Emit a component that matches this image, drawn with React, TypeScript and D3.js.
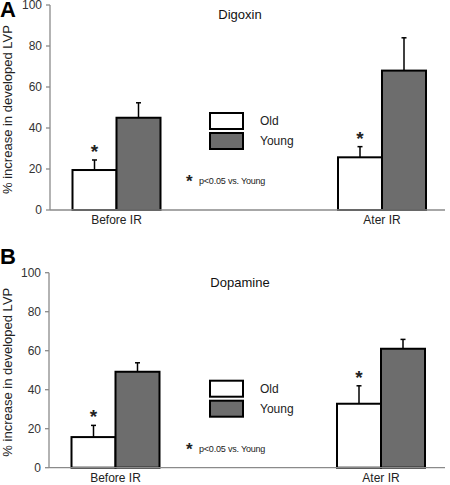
import React from "react";
import * as d3 from "d3";

const categories = ["Before IR", "Ater IR"];
const groups = ["Old", "Young"];
const yTicks = [0, 20, 40, 60, 80, 100];

const digoxinOld = [19.5, 25.7];
const digoxinOldErr = [4.9, 5.2];
const digoxinYoung = [45, 68];
const digoxinYoungErr = [7.3, 16];

const dopamineOld = [15.7, 32.8];
const dopamineOldErr = [6, 9.2];
const dopamineYoung = [49.2, 61];
const dopamineYoungErr = [4.6, 4.8];

const panels = [
  { letter: "A", title: "Digoxin", old: digoxinOld, oldErr: digoxinOldErr, young: digoxinYoung, youngErr: digoxinYoungErr, top: 5, bottom: 210, axisX: 50, letterY: 17 },
  { letter: "B", title: "Dopamine", old: dopamineOld, oldErr: dopamineOldErr, young: dopamineYoung, youngErr: dopamineYoungErr, top: 272.7, bottom: 467.7, axisX: 49, letterY: 264 },
];

const FONT = "Liberation Sans, Arial, sans-serif";
const YOUNG_FILL = "#6d6d6d";

function Panel({ p }: { p: typeof panels[number] }) {
  const y = d3.scaleLinear().domain([0, 100]).range([p.bottom, p.top]);
  const x = d3.scalePoint().domain(categories).range([p.axisX + 66.5, p.axisX + 332]);
  const bw = 44;
  const midY = (p.top + p.bottom) / 2;
  const legX = 210;
  const legY1 = p.top + 108;
  const items = [
    { vals: p.old, errs: p.oldErr, fill: "#ffffff", off: -bw },
    { vals: p.young, errs: p.youngErr, fill: YOUNG_FILL, off: 0 },
  ];
  return (
    <g>
      <text x={0} y={p.letterY} fontFamily={FONT} fontWeight="bold" fontSize={22} fill="#000">{p.letter}</text>
      <text transform={`translate(12,${midY + 2}) rotate(-90)`} textAnchor="middle" fontFamily={FONT} fontSize={13} fill="#222">% increase in developed LVP</text>
      <line x1={p.axisX} x2={p.axisX} y1={p.top} y2={p.bottom} stroke="#8a8a8a" strokeWidth={1.3} />
      {yTicks.map((t) => (
        <g key={t}>
          <line x1={p.axisX - 4} x2={p.axisX} y1={y(t)} y2={y(t)} stroke="#8a8a8a" strokeWidth={1.3} />
          <text x={p.axisX - 8} y={y(t)} dy="0.35em" textAnchor="end" fontFamily={FONT} fontSize={12} fill="#333">{t}</text>
        </g>
      ))}
      <text x={240} y={p.top + 14} textAnchor="middle" fontFamily={FONT} fontSize={13} fill="#111">{p.title}</text>
      {items.map((it, gi) =>
        categories.map((c, ci) => {
          const cx = (x(c) as number) + it.off;
          const top = y(it.vals[ci]);
          const eTop = y(it.vals[ci] + it.errs[ci]);
          const ex = cx + bw / 2;
          return (
            <g key={`${gi}-${ci}`}>
              <line x1={ex} x2={ex} y1={top} y2={eTop} stroke="#000" strokeWidth={1.5} />
              <line x1={ex - 2.5} x2={ex + 2.5} y1={eTop} y2={eTop} stroke="#000" strokeWidth={1.5} />
              <rect x={cx} y={top} width={bw} height={p.bottom - top} fill={it.fill} stroke="#000" strokeWidth={2} />
              {gi === 0 && (
                <text x={ex} y={eTop - 2} textAnchor="middle" fontFamily={FONT} fontWeight="bold" fontSize={19} fill="#222">*</text>
              )}
            </g>
          );
        })
      )}
      <line x1={p.axisX} x2={445} y1={p.bottom} y2={p.bottom} stroke="#8a8a8a" strokeWidth={1.3} />
      {categories.map((c) => (
        <text key={c} x={x(c) as number} y={p.bottom + 10} dy="0.35em" textAnchor="middle" fontFamily={FONT} fontSize={12} fill="#222">{c}</text>
      ))}
      {groups.map((g, i) => (
        <g key={g}>
          <rect x={legX} y={legY1 + i * 20} width={33} height={16} fill={i === 0 ? "#fff" : YOUNG_FILL} stroke="#000" strokeWidth={2} />
          <text x={260} y={legY1 + i * 20 + 8} dy="0.35em" fontFamily={FONT} fontSize={12} fill="#222">{g}</text>
        </g>
      ))}
      <text x={186} y={p.top + 182} fontFamily={FONT} fontWeight="bold" fontSize={17} fill="#222">*</text>
      <text x={199} y={p.top + 176} dy="0.35em" fontFamily={FONT} fontSize={9} fill="#222" letterSpacing={-0.2}>p&lt;0.05 vs. Young</text>
    </g>
  );
}

export default function App() {
  return (
    <svg width={450} height={485} style={{ position: "absolute", left: 0, top: 0, background: "#fff" }}>
      <rect width={450} height={485} fill="#fff" />
      {panels.map((p) => (
        <Panel key={p.letter} p={p} />
      ))}
    </svg>
  );
}
